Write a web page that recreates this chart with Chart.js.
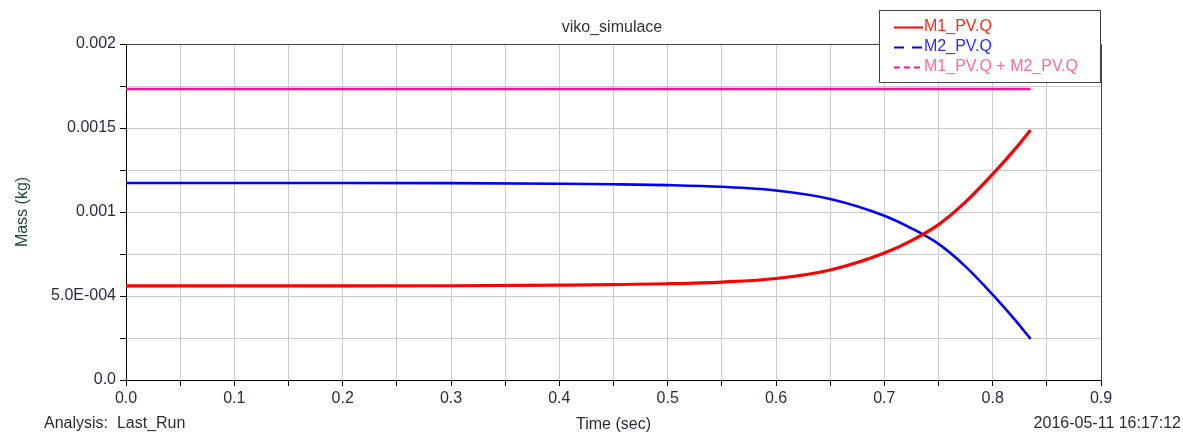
<!DOCTYPE html>
<html>
<head>
<meta charset="utf-8">
<script src="https://cdn.jsdelivr.net/npm/chart.js@4.4.1/dist/chart.umd.min.js"></script>
<style>
html,body{margin:0;padding:0;background:#fff;}
#wrap{position:relative;width:1183px;height:434px;}
</style>
</head>
<body>
<div id="wrap"><canvas id="c" width="1183" height="434"></canvas></div>
<script>
const chartTitle = "viko_simulace";
const xAxisTitle = "Time (sec)";
const yAxisTitle = "Mass (kg)";
const footerLeft = "Analysis:  Last_Run";
const footerRight = "2016-05-11 16:17:12";

const time = [0.0, 0.1, 0.2, 0.3, 0.4, 0.45, 0.5, 0.55, 0.6, 0.65, 0.7, 0.725, 0.75, 0.775, 0.8, 0.82, 0.835];
const m1 = [0.000560, 0.000560, 0.000560, 0.000561, 0.000565, 0.000568, 0.000573, 0.000583, 0.000604, 0.000655, 0.000756, 0.000830, 0.000925, 0.001060, 0.001225, 0.001370, 0.001488];
const m2 = [0.001173, 0.001173, 0.001173, 0.001172, 0.001168, 0.001165, 0.001160, 0.001150, 0.001128, 0.001078, 0.000978, 0.000903, 0.000810, 0.000675, 0.000508, 0.000362, 0.000245];
const total = [0.001732, 0.001732, 0.001732, 0.001732, 0.001732, 0.001732, 0.001732, 0.001732, 0.001732, 0.001732, 0.001732, 0.001732, 0.001732, 0.001732, 0.001732, 0.001732, 0.001732];
const seriesNames = ["M1_PV.Q", "M2_PV.Q", "M1_PV.Q + M2_PV.Q"];

const FONT = "'Liberation Sans', Arial, sans-serif";

function pts(ys){ return time.map((t,i)=>({x:t,y:ys[i]})); }

const framePlugin = {
  id: 'frame',
  afterDraw(chart){
    const {ctx, chartArea:a} = chart;
    ctx.save();
    ctx.strokeStyle = '#444';
    ctx.lineWidth = 1;
    ctx.beginPath();
    ctx.moveTo(a.left, a.top + 0.5);
    ctx.lineTo(a.right + 0.5, a.top + 0.5);
    ctx.lineTo(a.right + 0.5, a.bottom);
    ctx.stroke();
    ctx.fillStyle = '#333';
    ctx.font = '16px ' + FONT;
    ctx.textAlign = 'center';
    ctx.textBaseline = 'middle';
    ctx.fillText(chartTitle, 612, 28);
    ctx.textAlign = 'left';
    ctx.fillStyle = '#2a2a3a';
    ctx.fillText(footerLeft, 44, 424);
    ctx.textAlign = 'right';
    ctx.fillText(footerRight, 1181, 424);
    const bx = 879.5, by = 10.5, bw = 221, bh = 72;
    ctx.fillStyle = '#fff';
    ctx.fillRect(bx, by, bw, bh);
    ctx.strokeStyle = '#444';
    ctx.strokeRect(bx, by, bw, bh);
    const ds = chart.data.datasets;
    const textCols = ['#ff2a10', '#2a2aff', '#ff6a9a'];
    const dashes = [[], [10,8], [6,4]];
    ds.forEach((d, i) => {
      const y = 27 + i*20;
      ctx.strokeStyle = d.borderColor;
      ctx.lineWidth = 2;
      ctx.setLineDash(dashes[i]);
      ctx.beginPath();
      ctx.moveTo(894, y + 0.5);
      ctx.lineTo(923, y + 0.5);
      ctx.stroke();
      ctx.setLineDash([]);
      ctx.fillStyle = textCols[i];
      ctx.textAlign = 'left';
      ctx.font = '16px ' + FONT;
      ctx.fillText(d.label, 924, y);
    });
    ctx.restore();
  }
};

new Chart(document.getElementById('c'), {
  type: 'line',
  data: {
    datasets: [
      {label: seriesNames[0], data: pts(m1), borderColor: '#ff0000', borderWidth: 3.2, pointRadius: 0, cubicInterpolationMode: 'monotone', fill: false},
      {label: seriesNames[1], data: pts(m2), borderColor: '#0000ff', borderWidth: 2.6, pointRadius: 0, cubicInterpolationMode: 'monotone', fill: false},
      {label: seriesNames[2], data: pts(total), borderColor: '#ff0aa0', borderWidth: 2.4, pointRadius: 0, fill: false}
    ]
  },
  options: {
    responsive: false,
    animation: false,
    devicePixelRatio: 1,
    layout: {padding: {left: 13, right: 82, top: 44, bottom: 0}},
    plugins: {legend: {display: false}, title: {display: false}, tooltip: {enabled: false}},
    scales: {
      x: {
        type: 'linear', min: 0, max: 0.9,
        afterFit(s){ s.height = 54; },
        ticks: {
          stepSize: 0.05, autoSkip: false, maxRotation: 0, padding: 3,
          color: '#2a2a48', font: {family: FONT, size: 16},
          callback(v){ const k = Math.round(v*100); return (k % 10 === 0) ? (k/100).toFixed(1) : ''; }
        },
        grid: {color: '#cccccc', lineWidth: 1, tickLength: 6, tickColor: '#000', drawTicks: true},
        border: {color: '#000', width: 1},
        title: {display: true, text: xAxisTitle, color: '#2a2a3a', font: {family: FONT, size: 16}, padding: 0}
      },
      y: {
        type: 'linear', min: 0, max: 0.002,
        afterFit(s){ s.width = 113; },
        ticks: {
          stepSize: 0.00025, autoSkip: false, padding: 4,
          color: '#2a2a48', font: {family: FONT, size: 16},
          callback(v){
            const k = Math.round(v/0.00025);
            if (k % 2 !== 0) return '';
            const m = {0:'0.0', 2:'5.0E-004', 4:'0.001', 6:'0.0015', 8:'0.002'};
            return m[k];
          }
        },
        grid: {color: '#cccccc', lineWidth: 1, tickLength: 6, tickColor: '#000'},
        border: {color: '#000', width: 1},
        title: {display: true, text: yAxisTitle, color: '#1f4a3a', font: {family: FONT, size: 16}, padding: 0}
      }
    }
  },
  plugins: [framePlugin]
});
</script>
</body>
</html>
